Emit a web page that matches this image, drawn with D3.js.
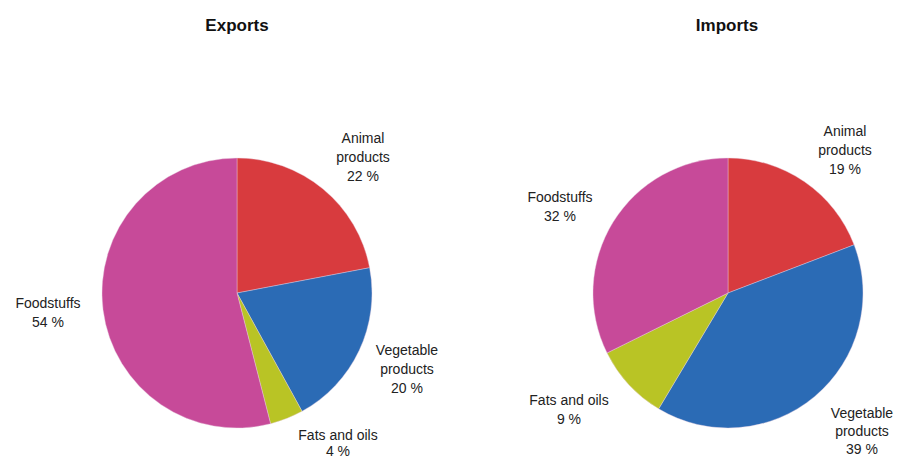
<!DOCTYPE html>
<html><head><meta charset="utf-8">
<script src="https://cdn.jsdelivr.net/npm/d3@7"></script>
<style>body{margin:0;background:#fff}svg{display:block}</style>
</head><body>
<svg id="c" width="898" height="459"></svg>
<script>
const categories = ["Animal products", "Vegetable products", "Fats and oils", "Foodstuffs"];
const exportsValues = [22, 20, 4, 54];
const importsValues = [19, 39, 9, 32];
const colors = ["#D83B3E", "#2B6BB5", "#B9C425", "#C74A99"];

const svg = d3.select("#c");
const color = d3.scaleOrdinal().domain(categories).range(colors);
const font = "'Liberation Sans', Arial, sans-serif";

const charts = [
  {title: "Exports", values: exportsValues, cx: 237, cy: 293, r: 135, titleX: 237,
   labels: [
     {x: 363, y: 143, gap: 19, lines: ["Animal", "products"]},
     {x: 407, y: 355, gap: 19, lines: ["Vegetable", "products"]},
     {x: 338, y: 440, gap: 16, lines: ["Fats and oils"]},
     {x: 48, y: 308, gap: 19, lines: ["Foodstuffs"]}
   ]},
  {title: "Imports", values: importsValues, cx: 728, cy: 293, r: 135, titleX: 727,
   labels: [
     {x: 845, y: 136, gap: 19, lines: ["Animal", "products"]},
     {x: 862, y: 418, gap: 18, lines: ["Vegetable", "products"]},
     {x: 569, y: 405, gap: 19, lines: ["Fats and oils"]},
     {x: 560, y: 202, gap: 19, lines: ["Foodstuffs"]}
   ]}
];

const pie = d3.pie().sort(null).value(d => d.v);
const arc = d3.arc().innerRadius(0);

charts.forEach(ch => {
  svg.append("text").attr("x", ch.titleX).attr("y", 31)
    .attr("text-anchor", "middle").attr("font-family", font)
    .attr("font-weight", "bold").attr("font-size", 17).attr("fill", "#111")
    .text(ch.title);
  const data = categories.map((c, i) => ({c, v: ch.values[i]}));
  const g = svg.append("g").attr("transform", `translate(${ch.cx},${ch.cy})`);
  g.selectAll("path").data(pie(data)).join("path")
    .attr("d", d => arc.outerRadius(ch.r)(d))
    .attr("fill", d => color(d.data.c))
    .attr("stroke", "#e8d0e0").attr("stroke-width", 0.4);
  data.forEach((d, i) => {
    const L = ch.labels[i];
    const t = svg.append("text").attr("text-anchor", "middle")
      .attr("font-family", font).attr("font-size", 14).attr("fill", "#222");
    const lines = L.lines.concat([d.v + " %"]);
    lines.forEach((s, k) => {
      t.append("tspan").attr("x", L.x).attr("y", L.y + k * L.gap).text(s);
    });
  });
});
</script>
</body></html>
